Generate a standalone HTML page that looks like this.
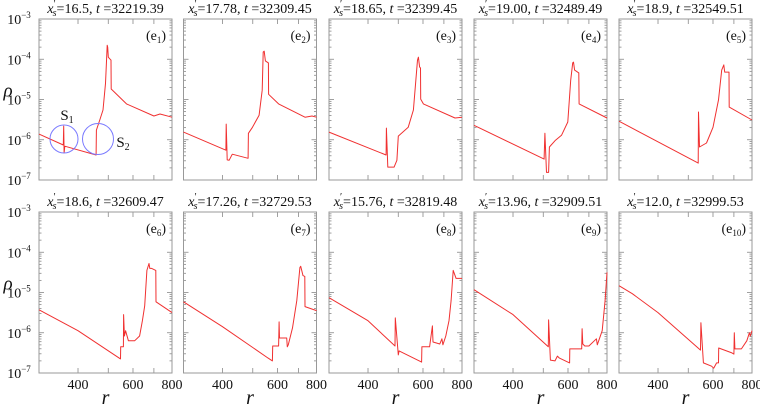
<!DOCTYPE html>
<html><head><meta charset="utf-8">
<style>
html,body{margin:0;padding:0;background:#fff;}
svg, svg text{font-family:"Liberation Serif","DejaVu Serif",serif;}
</style></head>
<body>
<svg id="chart" width="760" height="410" viewBox="0 0 760 410" font-family="Liberation Serif, DejaVu Serif, serif"></svg>
<script>
const titlesXs = ["16.5","17.78","18.65","19.00","18.9","18.6","17.26","15.76","13.96","12.0"];
const titlesT = ["32219.39","32309.45","32399.45","32489.49","32549.51","32609.47","32729.53","32819.48","32909.51","32999.53"];
const panelIds = ["1","2","3","4","5","6","7","8","9","10"];
const xTickLabels = [400,600,800];
const xTickVals = [400,500,600,700];
const yDecades = [-3,-4,-5,-6,-7];
const s1 = [[300,-5.86],[359,-6.13],[360,-5.66],[361,-6.33],[363,-6.16],[457,-6.38],[458,-5.76],[470,-5.5],[481,-5.26],[490,-4.6],[492,-4.27],[496,-3.65],[498,-3.7],[500,-3.95],[507,-4.0],[510,-4.02],[511,-4.74],[572,-5.11],[700,-5.41],[732,-5.36],[800,-5.44]];
const s2 = [[300,-5.81],[410,-6.26],[411,-5.61],[414,-6.5],[420,-6.51],[430,-6.36],[483,-6.46],[484,-5.84],[498,-5.7],[524,-5.39],[536,-4.77],[540,-3.82],[544,-3.8],[549,-4.04],[561,-4.09],[562,-4.87],[605,-5.11],[735,-5.44],[774,-5.41],[800,-5.44]];
const s3 = [[300,-5.81],[457,-6.38],[458,-5.71],[463,-6.68],[485,-6.68],[495,-6.51],[500,-5.91],[538,-5.69],[559,-5.26],[576,-4.02],[580,-3.95],[585,-4.19],[589,-4.22],[590,-4.99],[602,-5.11],[760,-5.46],[800,-5.44]];
const s4 = [[300,-5.64],[503,-6.48],[506,-5.84],[512,-6.81],[520,-6.81],[523,-6.18],[547,-6.01],[572,-5.89],[599,-5.56],[612,-4.52],[621,-4.09],[625,-4.07],[630,-4.27],[650,-4.34],[651,-5.11],[800,-5.46]];
const s5 = [[300,-5.54],[538,-6.58],[539,-5.31],[543,-6.18],[572,-6.08],[600,-5.69],[625,-5.01],[640,-4.27],[650,-4.14],[654,-4.32],[675,-4.32],[676,-5.19],[800,-5.51]];
const s6 = [[300,-5.43],[400,-5.95],[547,-6.65],[548,-6.35],[559,-6.35],[560,-5.55],[563,-6.08],[568,-5.95],[572,-6.03],[580,-6.2],[607,-6.2],[630,-6.08],[643,-5.7],[654,-5.33],[665,-4.45],[675,-4.28],[679,-4.4],[689,-4.4],[710,-4.45],[711,-5.23],[800,-5.5]];
const s7 = [[300,-5.23],[400,-5.85],[560,-6.63],[578,-6.7],[579,-6.33],[605,-6.33],[607,-5.73],[609,-6.13],[642,-6.13],[645,-6.35],[650,-6.3],[670,-5.88],[692,-5.2],[708,-4.38],[712,-4.35],[724,-4.58],[734,-4.6],[735,-5.35],[800,-5.45]];
const s8 = [[300,-5.13],[400,-5.7],[488,-6.33],[489,-5.63],[500,-6.55],[503,-6.45],[594,-6.73],[595,-6.35],[630,-6.35],[643,-5.83],[646,-6.23],[679,-6.28],[690,-6.15],[695,-6.3],[710,-6.08],[727,-5.7],[738,-5.2],[750,-4.45],[766,-4.65],[800,-4.65]];
const s9 = [[300,-4.93],[400,-5.55],[519,-6.35],[520,-5.68],[527,-6.68],[545,-6.7],[555,-6.58],[563,-6.63],[607,-6.75],[608,-6.4],[664,-6.4],[666,-5.9],[669,-6.28],[679,-6.33],[700,-6.33],[740,-6.15],[745,-6.3],[772,-5.95],[789,-5.2],[800,-4.5]];
const s10 = [[300,-4.83],[331,-5.03],[400,-5.5],[547,-6.43],[549,-5.75],[559,-6.75],[594,-6.83],[603,-6.88],[616,-6.75],[625,-6.75],[626,-6.38],[690,-6.5],[700,-6.53],[702,-6.0],[705,-6.4],[740,-6.4],[770,-6.2],[785,-6.0],[790,-6.08],[800,-5.95]];
const series = [s1,s2,s3,s4,s5,s6,s7,s8,s9,s10];

const NS="http://www.w3.org/2000/svg";
const svg=document.getElementById('chart');
const colX=[39,183.5,329,474,619], rowY=[19,212], PW=133, PH=161;
const RMIN=300, RMAX=800, LGMAX=-3, LGMIN=-7;
const FF="Liberation Serif, DejaVu Serif, serif";
function mk(tag,attrs,parent){const e=document.createElementNS(NS,tag);for(const k in attrs)e.setAttribute(k,attrs[k]);if(tag==='text')e.setAttribute('font-family',FF);(parent||svg).appendChild(e);return e;}
function xScale(x0,r){return x0+(Math.log10(r)-Math.log10(RMIN))/(Math.log10(RMAX)-Math.log10(RMIN))*PW;}
function yScale(y0,lg){return y0+(LGMAX-lg)/(LGMAX-LGMIN)*PH;}

for(let i=0;i<10;i++){
  const col=i%5,row=Math.floor(i/5);
  const x0=colX[col],y0=rowY[row];
  const g=mk('g',{});
  
  
  const t=mk('text',{x:x0+PW/2,y:y0-6,'text-anchor':'middle','font-size':'14',fill:'#111'},g);
  
  
  t.innerHTML='<tspan font-style="italic">x</tspan><tspan font-size="10" dy="-6">′</tspan><tspan font-style="italic" font-size="10" dx="-3" dy="9">s</tspan><tspan dy="-3">='+titlesXs[i]+',  </tspan><tspan font-style="italic">t</tspan> ='+titlesT[i];
  const tk=mk('g',{stroke:'#888','stroke-width':'0.8'},g);
  
  
  for(let d=-3;d>=-7;d--){
    const yy=yScale(y0,d);
    mk('line',{x1:x0,x2:x0+5,y1:yy,y2:yy},tk);
    mk('line',{x1:x0+PW-5,x2:x0+PW,y1:yy,y2:yy},tk);
    if(d>-7){for(let m=2;m<=9;m++){const ym=yScale(y0,d-1+Math.log10(m));mk('line',{x1:x0,x2:x0+2.5,y1:ym,y2:ym},tk);mk('line',{x1:x0+PW-2.5,x2:x0+PW,y1:ym,y2:ym},tk);}}
  }
  xTickVals.forEach(v=>{const xx=xScale(x0,v);mk('line',{x1:xx,x2:xx,y1:y0+PH,y2:y0+PH-5},tk);mk('line',{x1:xx,x2:xx,y1:y0,y2:y0+5},tk);});
  const fr=mk('rect',{x:x0,y:y0,width:PW,height:PH,fill:'none',stroke:'#999','stroke-width':'1'},g);
  
  
  const pts=series[i].map(p=>xScale(x0,p[0]).toFixed(1)+','+yScale(y0,p[1]).toFixed(1)).join(' ');
  const pl=mk('polyline',{points:pts,fill:'none',stroke:'#f03030','stroke-width':'1','stroke-linejoin':'round'},g);
  
  
  const lb=mk('text',{x:x0+PW-6,y:y0+21,'text-anchor':'end','font-size':'14',fill:'#111'},g);
  
  
  lb.innerHTML='(e<tspan font-size="9" dy="3">'+panelIds[i]+'</tspan><tspan dy="-3">)</tspan>';
  if(col===0){
    yDecades.forEach(d=>{
      const yl=mk('text',{x:x0-20,y:yScale(y0,d)+5,'text-anchor':'middle','font-size':'14',fill:'#111'},g);
      
      
      yl.innerHTML='10<tspan font-size="9" dy="-6">−'+(-d)+'</tspan>';
    });
    const rl=mk('text',{x:8,y:y0+PH*0.5-3,'text-anchor':'middle','font-size':'19','font-style':'italic',fill:'#111'},g);
    
    
    rl.textContent='ρ';
  }
  if(row===1){
    xTickLabels.forEach(v=>{
      const xl=mk('text',{x:xScale(x0,v),y:y0+PH+16,'text-anchor':'middle','font-size':'14',fill:'#111'},g);
      
      
      xl.textContent=v;
    });
    const xt=mk('text',{x:x0+PW/2,y:404,'text-anchor':'middle','font-size':'20','font-style':'italic',fill:'#111'},g);
    
    
    xt.textContent='r';
  }
}
const c1=mk('circle',{cx:64,cy:139,r:14,fill:'none',stroke:'#7a7aff','stroke-width':'1'});


const c2=mk('circle',{cx:98,cy:139,r:15.5,fill:'none',stroke:'#7a7aff','stroke-width':'1'});


const l1=mk('text',{x:67,y:120,'text-anchor':'middle','font-size':'15',fill:'#111'});


l1.innerHTML='S<tspan font-size="10" dy="3">1</tspan>';
const l2=mk('text',{x:123,y:147,'text-anchor':'middle','font-size':'15',fill:'#111'});


l2.innerHTML='S<tspan font-size="10" dy="3">2</tspan>';
</script>
</body></html>
